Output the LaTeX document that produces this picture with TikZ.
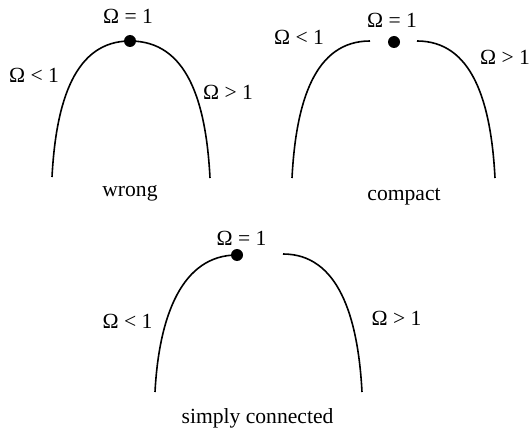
\documentclass[tikz,border=0pt]{standalone}
\usepackage{fontspec}
\setmainfont{Liberation Serif}
\usepackage{tikz}
\tikzset{branch/.style={line width=0.8pt},
  lbl/.style={anchor=base,inner sep=0pt,font=\fontsize{10.8}{13}\selectfont}}

\begin{document}
\begin{tikzpicture}[x=0.5pt,y=-0.5pt]
    \useasboundingbox (0,0) rectangle (530,433);
    % wrong
    \coordinate (top1) at (130,41);
    \coordinate (lf1) at (52,177);
    \coordinate (rf1) at (210,178);
    \draw[branch] (lf1) .. controls (56,101) and (75,41) .. (top1)
        .. controls (187,41) and (206,101) .. (rf1);
    \fill (top1) circle(3pt);
    \node[lbl] (eq1) at (128,24) {Ω = 1};
    \node[lbl] (lt1) at (34,83) {Ω < 1};
    \node[lbl] (gt1) at (228,100) {Ω > 1};
    \node[lbl] (name1) at (130,197) {wrong};

    % compact
    \coordinate (lend2) at (370,41);
    \coordinate (rend2) at (417,41);
    \coordinate (lf2) at (292,178);
    \coordinate (rf2) at (495,178);
    \coordinate (dot2) at (394,42);
    \draw[branch] (lf2) .. controls (296,101) and (315,41) .. (lend2);
    \draw[branch] (rend2) .. controls (472,41) and (491,101) .. (rf2);
    \fill (dot2) circle(3pt);
    \node[lbl] (eq2) at (392,28) {Ω = 1};
    \node[lbl] (lt2) at (299,45) {Ω < 1};
    \node[lbl] (gt2) at (505,65) {Ω > 1};
    \node[lbl] (name2) at (404,200) {compact};

    % simply connected
    \coordinate (lend3) at (237,255);
    \coordinate (rend3) at (283,254);
    \coordinate (lf3) at (155,392);
    \coordinate (rf3) at (362,392);
    \draw[branch] (lf3) .. controls (159,316) and (182,255) .. (lend3);
    \draw[branch] (rend3) .. controls (338,254) and (358,316) .. (rf3);
    \fill (lend3) circle(3pt);
    \node[lbl] (eq3) at (241.5,245) {Ω = 1};
    \node[lbl] (lt3) at (127.5,328) {Ω < 1};
    \node[lbl] (gt3) at (396.5,325) {Ω > 1};
    \node[lbl] (name3) at (257.5,423) {simply connected};
\end{tikzpicture}
\end{document}
